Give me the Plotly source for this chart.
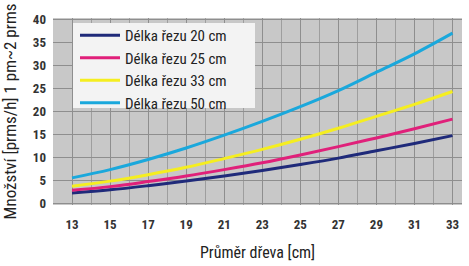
import plotly.graph_objects as go

x = [13, 15, 17, 19, 21, 23, 25, 27, 29, 31, 33]
names = ["Délka řezu 20 cm", "Délka řezu 25 cm", "Délka řezu 33 cm", "Délka řezu 50 cm"]
s20 = [2.2, 2.9, 3.8, 4.8, 5.9, 7.1, 8.4, 9.8, 11.4, 13.0, 14.7]
s25 = [2.8, 3.6, 4.7, 5.9, 7.3, 8.8, 10.5, 12.3, 14.2, 16.2, 18.3]
s33 = [3.7, 4.8, 6.2, 7.8, 9.7, 11.7, 13.9, 16.3, 18.9, 21.5, 24.3]
s50 = [5.5, 7.3, 9.5, 12.0, 14.8, 17.8, 21.0, 24.5, 28.5, 32.5, 37.0]
colors = ["#1f2a7a", "#e0207a", "#f5ee20", "#1aa8dc"]
x_ticks = [13, 15, 17, 19, 21, 23, 25, 27, 29, 31, 33]
y_ticks = [0, 5, 10, 15, 20, 25, 30, 35, 40]

fig = go.Figure()
for n, s, c in zip(names, [s20, s25, s33, s50], colors):
    fig.add_trace(go.Scatter(x=x, y=s, name=n, mode="lines",
                             line=dict(color=c, width=3, shape="spline")))

W, H = 469, 266
L, R, T, B = 53, 7, 18, 61
pw, ph = W - L - R, H - T - B

def px_x(p):
    return (p - L) / pw

def px_y(p):
    return 1 - (p - T) / ph

font_fam = "Liberation Sans Narrow, Roboto Condensed, Liberation Sans, sans-serif"
fig.add_shape(type="rect", xref="paper", yref="paper",
              x0=px_x(73), x1=px_x(255), y0=px_y(108), y1=px_y(23),
              fillcolor="#f3f3f3", line=dict(width=0), layer="above")
fig.update_layout(
    width=W, height=H,
    margin=dict(l=L, r=R, t=T, b=B),
    paper_bgcolor="white",
    plot_bgcolor="#c8c8c8",
    font=dict(family=font_fam, color="#222"),
    showlegend=True,
    legend=dict(x=px_x(75), y=px_y(19), xanchor="left", yanchor="top",
                bgcolor="rgba(0,0,0,0)", borderwidth=0,
                font=dict(size=15, family=font_fam, color="#222"),
                itemwidth=40, tracegroupgap=0),
    xaxis=dict(range=[12, 33.5], tickvals=x_ticks, ticktext=[str(v) for v in x_ticks],
               showgrid=True, gridcolor="#8e8e8e", gridwidth=1, automargin=False,
               minor=dict(dtick=1, tick0=12, showgrid=True, gridcolor="#9e9e9e", gridwidth=1),
               tickfont=dict(size=13, family=font_fam, color="#333", weight="bold"),
               ticks="", zeroline=False, ticklabelstandoff=10,
               title=dict(text="Průměr dřeva [cm]", font=dict(size=16, color="#222"), standoff=15)),
    yaxis=dict(range=[-0.4, 40.3], tickvals=y_ticks, automargin=False,
               showgrid=True, gridcolor="#8e8e8e", gridwidth=1,
               tickfont=dict(size=13, family=font_fam, color="#333", weight="bold"),
               ticks="", zeroline=False, ticklabelstandoff=6,
               title=dict(text="Množství [prms/h] 1 pm~2 prms", font=dict(size=17, color="#222"), standoff=22)),
)
fig.write_html("out.html", config={"displayModeBar": False},
               post_script="document.body.style.margin='0px';")
